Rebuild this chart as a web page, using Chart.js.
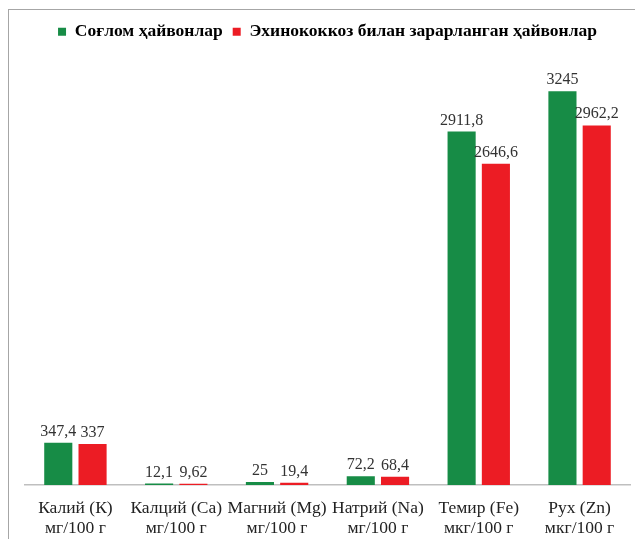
<!DOCTYPE html>
<html>
<head>
<meta charset="utf-8">
<script src="https://cdn.jsdelivr.net/npm/chart.js@4"></script>
<style>
  html, body { margin: 0; padding: 0; background: #fff; }
  #wrap { position: relative; width: 635px; height: 539px; }
  #frame-top { position: absolute; left: 8px; top: 9px; width: 627px; height: 0; border-top: 1.5px solid #a6a6a6; }
  #frame-left { position: absolute; left: 8px; top: 9px; width: 0; height: 530px; border-left: 1.5px solid #a6a6a6; }
  canvas { position: absolute; left: 0; top: 0; }
</style>
</head>
<body>
<div id="wrap">
  <canvas id="chart" width="635" height="539"></canvas>
  <div id="frame-top"></div>
  <div id="frame-left"></div>
</div>
<script>
const categories = [
  ["Калий (К)", "мг/100 г"],
  ["Калций (Са)", "мг/100 г"],
  ["Магний (Mg)", "мг/100 г"],
  ["Натрий (Na)", "мг/100 г"],
  ["Темир (Fe)", "мкг/100 г"],
  ["Рух (Zn)", "мкг/100 г"],
];
const healthy = [347.4, 12.1, 25, 72.2, 2911.8, 3245];
const infected = [337, 9.62, 19.4, 68.4, 2646.6, 2962.2];
const seriesNames = ["Соғлом ҳайвонлар", "Эхинококкоз билан зарарланган ҳайвонлар"];

const serif = "'Liberation Serif', 'Times New Roman', serif";

// draws the value above each bar, with a comma as decimal mark
const valueLabels = {
  id: "valueLabels",
  afterDatasetsDraw(chart) {
    const ctx = chart.ctx;
    ctx.save();
    ctx.font = "16px " + serif;
    ctx.fillStyle = "#333";
    ctx.textAlign = "center";
    ctx.textBaseline = "alphabetic";
    chart.data.datasets.forEach((ds, i) => {
      chart.getDatasetMeta(i).data.forEach((bar, j) => {
        const txt = String(ds.data[j]).replace(".", ",");
        ctx.fillText(txt, bar.x, bar.y - 7);
      });
    });
    ctx.restore();
  }
};

const ctx = document.getElementById("chart").getContext("2d");
new Chart(ctx, {
  type: "bar",
  data: {
    labels: categories,
    datasets: [
      { label: seriesNames[0], data: healthy, backgroundColor: "#178c46",
        categoryPercentage: 0.68, barPercentage: 0.82 },
      { label: seriesNames[1], data: infected, backgroundColor: "#ec1c24",
        categoryPercentage: 0.68, barPercentage: 0.82 },
    ],
  },
  options: {
    responsive: false,
    animation: false,
    layout: { padding: { left: 25, right: 5, top: 13, bottom: 0 } },
    plugins: {
      legend: {
        position: "top",
        labels: {
          color: "#000",
          boxWidth: 8,
          boxHeight: 8,
          padding: 10,
          font: { family: serif, size: 17.5, weight: "bold" },
        },
      },
      tooltip: { enabled: false },
    },
    scales: {
      x: {
        afterFit(scale) { scale.height = 54; },
        grid: { display: false, drawTicks: false },
        border: { display: true, color: "#bfbfbf", width: 1.5 },
        ticks: {
          color: "#222",
          padding: 13,
          autoSkip: false,
          maxRotation: 0,
          minRotation: 0,
          font: { family: serif, size: 17.5, lineHeight: 1.14 },
        },
      },
      y: {
        display: false,
        min: 0,
        max: 3580,
      },
    },
  },
  plugins: [valueLabels],
});
</script>
</body>
</html>
